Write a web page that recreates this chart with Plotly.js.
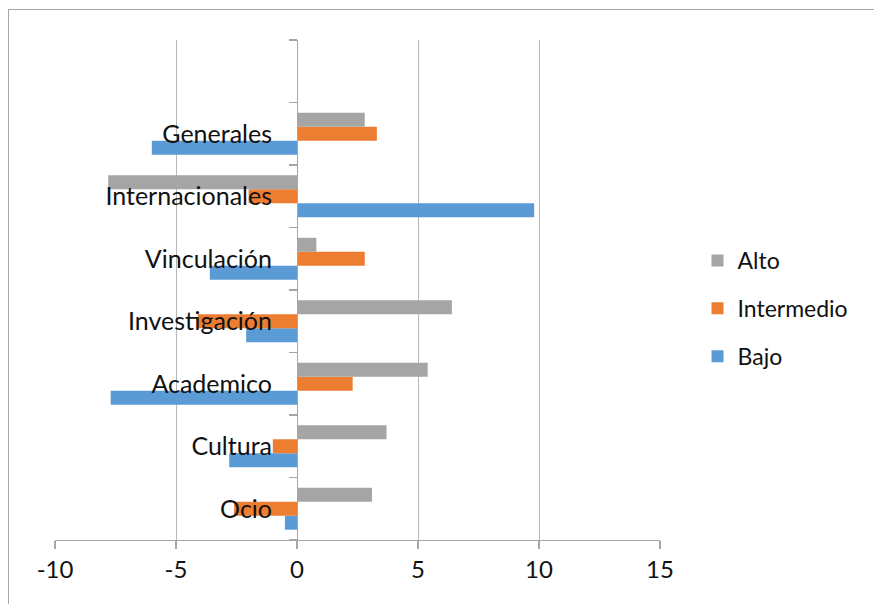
<!DOCTYPE html>
<html>
<head>
<meta charset="utf-8">
<script src="https://cdn.plot.ly/plotly-3.0.1.min.js"></script>
<style>
  html, body { margin:0; padding:0; background:#fff; }
  #frame { position:absolute; left:8px; top:9px; width:880px; height:610px; border-left:1.5px solid #a6a6a6; border-top:1.5px solid #a6a6a6; }
  #chart { position:absolute; left:0; top:0; width:874px; height:604px; }
</style>
</head>
<body>
<div id="frame"></div>
<div id="chart"></div>
<script>
const categories = ['Ocio', 'Cultura', 'Academico', 'Investigación', 'Vinculación', 'Internacionales', 'Generales'];
const alto       = [3.1, 3.7, 5.4, 6.4, 0.8, -7.8, 2.8];
const intermedio = [-2.6, -1.0, 2.3, -4.1, 2.8, -2.0, 3.3];
const bajo       = [-0.5, -2.8, -7.7, -2.1, -3.6, 9.8, -6.0];
const xTicks = [-10, -5, 0, 5, 10, 15];
const xTickText = xTicks.map(String);

const font = 'Lato, "Open Sans", sans-serif';
const axisColor = '#a6a6a6';

const traces = [
  {name:'Bajo', x:bajo, y:categories, type:'bar', orientation:'h', marker:{color:'#5B9BD5'}, legendgroup:'c', legendrank:3},
  {name:'Intermedio', x:intermedio, y:categories, type:'bar', orientation:'h', marker:{color:'#ED7D31'}, legendgroup:'b', legendrank:2},
  {name:'Alto', x:alto, y:categories, type:'bar', orientation:'h', marker:{color:'#A5A5A5'}, legendgroup:'a', legendrank:1}
];

const layout = {
  width:874, height:604,
  margin:{l:55, r:214, t:40, b:64},
  paper_bgcolor:'rgba(0,0,0,0)', plot_bgcolor:'rgba(0,0,0,0)',
  font:{family:font, size:24, color:'#111'},
  barmode:'group', bargap:0.33, bargroupgap:0,
  showlegend:true,
  legend:{x:1.062, xanchor:'left', y:0.463, yanchor:'middle', traceorder:'grouped', tracegroupgap:15, font:{size:23, family:font, color:'#111'}},
  xaxis:{range:[-10,15], tickvals:xTicks, ticktext:xTickText, showgrid:true, gridcolor:'#b8b8b8', gridwidth:1, zeroline:false,
         showline:true, linecolor:axisColor, linewidth:1.3, ticks:'outside', ticklen:8, tickcolor:axisColor, tickwidth:1.3,
         tickfont:{size:24, family:font, color:'#111'}, fixedrange:true},
  yaxis:{type:'category', categoryorder:'array', categoryarray:categories.concat([' ']), range:[-0.5,7.5],
         anchor:'free', position:0.4, showline:true, linecolor:axisColor, linewidth:1.3,
         ticks:'outside', ticklen:8, tickcolor:axisColor, tickwidth:1.3, tickson:'boundaries',
         showgrid:false, zeroline:false, ticklabelstandoff:20,
         tickfont:{size:25, family:font, color:'#111'}, fixedrange:true}
};

Plotly.newPlot('chart', traces, layout, {displayModeBar:false, staticPlot:true});
</script>
</body>
</html>
